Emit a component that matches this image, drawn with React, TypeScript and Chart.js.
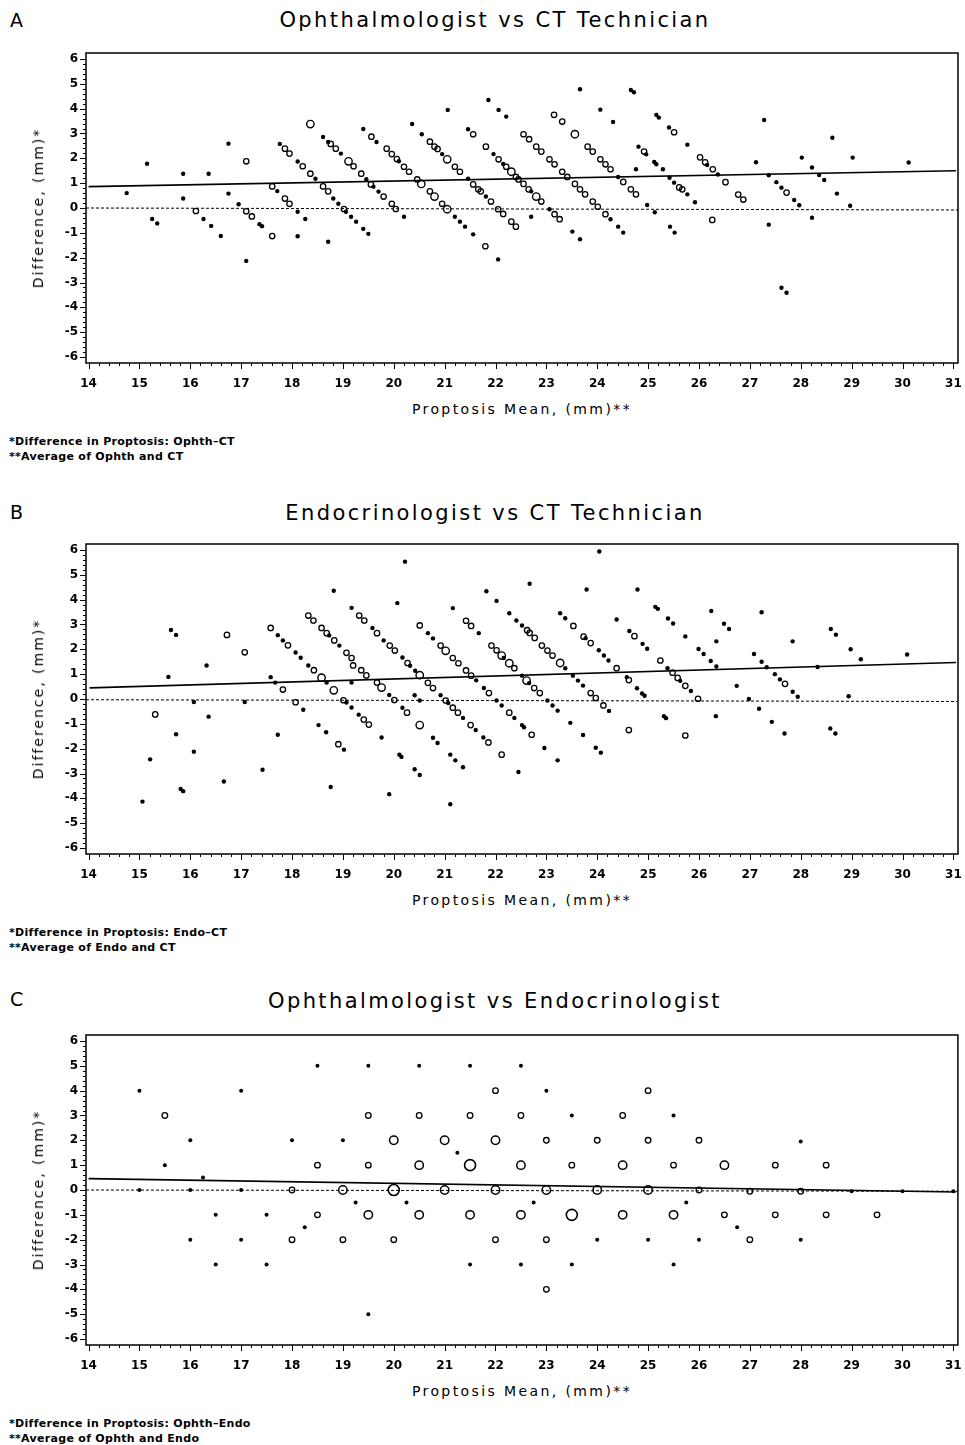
import React, { useEffect, useRef } from 'react';
import { Chart, registerables } from 'chart.js';

Chart.register(...registerables);

type Pt = [number, number];

// ---------- axis ticks ----------
const xTicks = [14, 15, 16, 17, 18, 19, 20, 21, 22, 23, 24, 25, 26, 27, 28, 29, 30, 31];
const yTicks = [-6, -5, -4, -3, -2, -1, 0, 1, 2, 3, 4, 5, 6];

// ---------- Panel A: Ophthalmologist vs CT Technician ----------
const aDots: Pt[] = [
  [14.75, 0.6], [15.15, 1.78], [15.25, -0.44], [15.35, -0.62], [15.86, 1.38], [15.86, 0.38], [16.26, -0.44], [16.36, 1.38],
  [16.41, -0.72], [16.6, -1.13], [16.75, 2.59], [16.75, 0.58], [16.95, 0.15], [17.1, -2.13], [17.36, -0.65], [17.41, -0.73],
  [17.71, 0.68], [17.76, 2.58], [18.11, 1.87], [18.11, -0.15], [18.26, -0.44], [18.11, -1.14], [18.46, 1.18], [18.81, 0.38],
  [18.91, 0.17], [19.06, -0.15], [19.16, -0.35], [19.26, -0.55], [19.4, -0.84], [19.5, -1.04], [18.71, -1.36], [18.61, 2.86],
  [18.71, 2.66], [18.96, 2.19], [19.46, 1.16], [19.6, 0.86], [19.7, 0.66], [19.4, 3.18], [19.66, 2.66],
  [20.1, 1.88], [20.2, -0.35], [20.36, 3.38], [20.55, 2.97], [20.95, 2.17], [21.2, -0.35], [21.3, -0.55], [21.4, -0.75],
  [21.56, -1.06], [22.05, -2.07], [21.06, 3.95], [21.46, 3.17], [21.46, 1.18], [21.81, 0.46], [21.86, 4.35], [22.06, 3.95],
  [22.21, 3.68], [21.96, 2.17], [22.15, 1.77], [22.7, 0.67], [22.7, -0.35], [23.06, -0.05], [23.51, -0.95], [23.66, -1.26],
  [23.66, 4.78], [24.41, 1.25], [24.26, -0.45], [24.41, -0.75], [24.51, -0.99], [24.06, 3.96], [24.31, 3.46], [24.66, 4.75],
  [24.72, 4.66], [24.81, 2.47], [24.96, 2.16], [25.12, 1.85], [25.16, 1.76], [25.29, 1.56], [24.76, 1.56], [25.16, 3.75],
  [25.21, 3.64], [25.41, 3.24], [25.42, 1.22], [25.51, 1.02], [24.98, 0.12], [25.13, -0.17], [25.43, -0.75], [25.52, -0.99],
  [25.77, 2.55], [26.16, 1.73], [26.37, 1.35], [25.77, 0.55], [25.92, 0.23], [27.12, 1.84], [27.28, 3.54], [27.37, 1.32],
  [27.37, -0.67], [27.52, 1.04], [27.62, 0.82], [27.87, 0.32], [27.97, 0.11], [27.62, -3.21], [27.72, -3.41], [28.02, 2.03],
  [28.22, 1.63], [28.36, 1.33], [28.46, 1.13], [28.71, 0.58], [28.22, -0.39], [28.62, 2.83], [29.02, 2.03], [28.97, 0.09],
  [30.12, 1.83],
];
const aSmall: Pt[] = [
  [16.11, -0.12], [17.1, 1.88], [17.1, -0.13], [17.21, -0.34], [17.61, -1.13], [17.61, 0.87], [17.86, 2.39], [17.95, 2.19],
  [17.86, 0.38], [17.95, 0.17], [18.21, 1.68], [18.36, 1.38], [18.61, 0.87], [18.71, 0.67], [19.02, -0.04], [18.76, 2.58],
  [18.86, 2.39], [19.21, 1.68], [19.36, 1.38], [19.55, 0.95], [19.8, 0.46], [19.56, 2.87],
  [19.86, 2.39], [19.96, 2.17], [20.06, 1.97], [20.2, 1.66], [20.3, 1.46], [20.46, 1.15], [19.96, 0.17], [20.04, -0.04],
  [20.71, 2.67], [20.8, 2.47], [20.86, 2.38], [21.2, 1.66], [21.3, 1.46], [20.71, 0.67], [20.95, 0.17], [21.8, -1.54],
  [21.56, 2.97], [21.56, 0.95], [21.66, 0.75], [21.71, 0.67], [21.91, 0.26], [22.05, -0.05], [22.15, -0.24], [22.31, -0.55],
  [22.4, -0.75], [21.81, 2.47], [22.06, 1.96], [22.21, 1.66], [22.4, 1.25], [22.45, 1.15], [22.55, 0.97], [22.65, 0.75],
  [22.9, 0.26], [23.16, -0.25], [23.26, -0.45], [22.55, 2.97], [22.66, 2.77], [22.8, 2.47], [22.9, 2.27], [23.06, 1.96],
  [23.16, 1.76], [23.31, 1.46], [23.41, 1.25], [23.15, 3.75], [23.31, 3.48], [23.81, 2.47], [23.91, 2.27], [24.06, 1.96],
  [24.16, 1.76], [24.26, 1.56], [24.51, 1.05], [24.66, 0.75], [24.76, 0.55], [23.56, 0.97], [23.66, 0.75], [23.76, 0.55],
  [23.91, 0.26], [24.01, 0.05], [24.16, -0.25], [24.92, 2.27], [25.51, 3.05], [25.61, 0.83],
  [26.02, 2.04], [26.12, 1.84], [26.27, 1.56], [26.52, 1.04], [25.67, 0.75], [26.26, -0.48], [26.77, 0.54], [26.87, 0.34],
  [27.72, 0.62],
];
const aLarge: Pt[] = [
  [18.36, 3.38], [19.11, 1.88], [20.54, 0.97], [21.05, 1.96], [20.8, 0.46], [21.05, -0.05], [22.31, 1.46], [22.8, 0.46],
  [23.56, 2.97],
];
const aFit: Pt[] = [[14, 0.86], [31.05, 1.5]];
const aZero: Pt[] = [[13.95, 0], [31.09, -0.08]];

// ---------- Panel B: Endocrinologist vs CT Technician ----------
const bDots: Pt[] = [
  [15.06, -4.13], [15.21, -2.43], [15.57, 0.89], [15.62, 2.78], [15.72, 2.58], [15.72, -1.42], [15.81, -3.62], [15.86, -3.71],
  [16.07, -0.12], [16.07, -2.12], [16.32, 1.35], [16.36, -0.71], [16.66, -3.32], [17.07, -0.12], [17.42, -2.85], [17.58, 0.88],
  [17.67, 0.66], [17.72, 2.57], [17.82, 2.36], [17.72, -1.44], [18.07, 1.87], [18.17, 1.66], [18.22, -0.43], [18.32, 1.35],
  [18.68, 0.66], [18.52, -1.05], [18.67, -1.34], [18.73, 2.56], [18.93, 2.15], [19.07, -0.14], [19.17, -0.34], [19.31, -0.63],
  [19.02, -2.04], [18.76, -3.54], [18.82, 4.36], [19.17, 3.67], [19.58, 2.86], [19.8, 2.36], [19.17, 0.66], [19.76, -1.55],
  [20.22, 5.53], [20.07, 3.86], [20.17, 1.67], [20.32, 1.34], [20.42, 1.14], [19.91, 0.16], [20.17, -0.35], [20.11, -2.24],
  [20.15, -2.33], [20.41, -2.83], [20.51, -3.06], [19.91, -3.83], [20.41, 0.15], [20.51, -0.06], [20.67, 2.65], [20.77, 2.44],
  [20.92, 0.15], [21.07, -0.16], [21.36, -0.76], [21.61, -1.25], [21.76, -1.55], [20.77, -1.56], [20.86, -1.77], [21.11, -2.24],
  [21.21, -2.47], [21.36, -2.75], [21.11, -4.24], [21.16, 3.66], [21.67, 2.65], [21.62, 0.75], [21.77, 0.44], [22.02, -0.06],
  [22.12, -0.26], [22.37, -0.76], [22.52, -1.05], [22.56, -1.14], [22.96, -1.97], [22.45, -2.94], [21.82, 4.34], [22.02, 3.95],
  [22.16, 1.65], [22.52, 0.94], [22.66, 0.64], [23.02, -0.06], [23.12, -0.26], [23.22, -0.47], [23.47, -0.96], [23.72, -1.45],
  [23.97, -1.96], [24.07, -2.16], [23.22, -2.47], [22.67, 4.64], [22.27, 3.45], [22.41, 3.16], [22.52, 2.96], [23.37, 1.24],
  [23.52, 0.94], [23.62, 0.74], [23.72, 0.54], [24.23, -0.48], [23.27, 3.45], [23.37, 3.25], [23.77, 2.45], [24.03, 1.96],
  [24.13, 1.75], [24.22, 1.55], [24.58, 0.88], [24.78, 0.43], [24.88, 0.22], [24.93, 0.13], [23.79, 4.41], [24.04, 5.94],
  [24.38, 3.2], [24.63, 2.74], [24.89, 2.22], [24.98, 2.02], [24.79, 4.41], [25.14, 3.71], [25.19, 3.63], [25.39, 3.24],
  [25.49, 3.04], [25.38, 1.24], [25.31, -0.69], [25.35, -0.77],
  [25.73, 2.52], [25.99, 2.01], [26.09, 1.81], [26.23, 1.53], [26.34, 1.31], [25.63, 0.73], [25.84, 0.32], [26.33, -0.69],
  [26.24, 3.54], [26.49, 3.03], [26.59, 2.82], [26.34, 2.32], [26.74, 0.53], [26.98, 0.0], [27.18, -0.39], [27.43, -0.92],
  [27.68, -1.39], [27.08, 1.81], [27.23, 3.49], [27.23, 1.5], [27.33, 1.28], [27.49, 1.0], [27.59, 0.79], [27.84, 0.29],
  [27.94, 0.09], [27.84, 2.32], [28.33, 1.29], [28.59, 2.82], [28.69, 2.59], [28.98, 2.0], [29.18, 1.6], [28.94, 0.11],
  [28.58, -1.19], [28.68, -1.39], [30.09, 1.79],
];
const bSmall: Pt[] = [
  [15.31, -0.62], [16.72, 2.58], [17.07, 1.88], [17.58, 2.86], [17.82, 0.38], [17.92, 2.16], [18.07, -0.13], [18.43, 1.16],
  [18.32, 3.36], [18.42, 3.16], [18.58, 2.86], [18.68, 2.65], [18.83, 2.36], [19.07, 1.86], [19.17, 1.65], [19.2, 1.35],
  [19.36, 1.16], [19.46, 0.95], [19.01, -0.05], [19.41, -0.83], [19.51, -1.03], [18.91, -1.82], [19.32, 3.36], [19.42, 3.16],
  [19.67, 2.65], [19.67, 0.66],
  [19.92, 2.15], [20.02, 1.95], [20.27, 1.45], [20.01, -0.04], [20.26, -0.55], [20.51, 2.96], [20.92, 2.15], [21.16, 1.65],
  [21.27, 1.44], [20.67, 0.65], [20.77, 0.44], [21.02, -0.06], [21.16, -0.35], [21.26, -0.55], [21.51, -1.05], [21.86, -1.75],
  [22.12, -2.24], [21.42, 3.15], [21.52, 2.94], [21.42, 1.15], [21.52, 0.94], [21.87, 0.24], [22.27, -0.55], [22.71, -1.44],
  [21.92, 2.15], [22.02, 1.96], [22.37, 1.24], [22.76, 0.44], [22.87, 0.24], [22.62, 2.77], [22.67, 2.66], [22.77, 2.46],
  [22.91, 2.15], [23.02, 1.95], [23.12, 1.75], [23.87, 0.24], [23.97, 0.04], [24.12, -0.26], [23.53, 2.94], [23.73, 2.51],
  [23.87, 2.25], [24.38, 1.24], [24.62, 0.76], [24.73, 2.53], [25.24, 1.55], [25.48, 1.06], [25.58, 0.85], [24.62, -1.25],
  [25.73, 0.53], [25.98, 0.01], [25.73, -1.47], [27.69, 0.61],
];
const bLarge: Pt[] = [
  [18.58, 0.86], [19.76, 0.46], [18.82, 0.35], [20.51, 0.96], [20.51, -1.05], [21.02, 1.94], [22.12, 1.75], [22.27, 1.44],
  [22.61, 0.74], [23.27, 1.45],
];
const bFit: Pt[] = [[14.02, 0.45], [31.05, 1.47]];
const bZero: Pt[] = [[13.95, -0.03], [31.09, -0.1]];

// ---------- Panel C: Ophthalmologist vs Endocrinologist ----------
const cDots: Pt[] = [
  [15, 4], [15.5, 1], [16, 2], [15, 0], [16, 0], [16.25, 0.5], [16.5, -1], [16, -2], [16.5, -3], [17, 4], [17, 0], [17.5, -1],
  [17, -2], [17.5, -3], [18, 2], [18.25, -1.5], [18.5, 5], [19, 2], [19.25, -0.5], [19.5, 5], [19.5, -5], [20.25, -0.5],
  [20.5, 5], [21.25, 1.5], [21.5, 5], [21.5, -3], [22.5, 5], [22.5, -3], [22.75, -0.5], [23, 4], [23.5, 3], [23.5, -3],
  [24, -2], [25, -2], [25.5, 3], [25.5, -3], [25.75, -0.5], [26, -2], [26.75, -1.5], [28, 1.95], [28, -2], [29, -0.05],
  [30, -0.05], [31, -0.05],
];
const cSmall: Pt[] = [
  [15.5, 3], [18, 0], [18, -2], [18.5, 1], [18.5, -1], [19, -2], [19.5, 3], [19.5, 1], [20, -2], [20.5, 3], [21.5, 3], [22, 4],
  [22, -2], [22.5, 3], [23, 2], [23, -2], [23, -4], [23.5, 1], [24, 2], [24.5, 3], [25, 4], [25, 2], [25.5, 1], [26, 2], [26, 0],
  [26.5, -1], [27, -0.05], [27, -2], [27.5, 1], [27.5, -1], [28, -0.05], [28.5, 1], [28.5, -1], [29.5, -1],
];
const cMedium: Pt[] = [
  [19, 0], [19.5, -1], [20, 2], [20.5, 1], [20.5, -1], [21, 2], [21, 0], [21.5, -1], [22, 2], [22, 0], [22.5, 1], [22.5, -1],
  [23, 0], [24, 0], [24.5, 1], [24.5, -1], [25, 0], [25.5, -1], [26.5, 1],
];
const cLarge: Pt[] = [[20, 0], [23.5, -1], [21.5, 1]];
const cFit: Pt[] = [[14, 0.46], [31.05, -0.08]];
const cZero: Pt[] = [[13.95, 0], [31.09, -0.05]];

// ---------- text ----------
const panelLetters = ['A', 'B', 'C'];
const panelTitles = [
  'Ophthalmologist vs CT Technician',
  'Endocrinologist vs CT Technician',
  'Ophthalmologist vs Endocrinologist',
];
const xTitle = 'Proptosis Mean, (mm)**';
const yTitle = 'Difference, (mm)*';
const footnotes = [
  ['*Difference in Proptosis: Ophth\u2013CT', '**Average of Ophth and CT'],
  ['*Difference in Proptosis: Endo\u2013CT', '**Average of Endo and CT'],
  ['*Difference in Proptosis: Ophth\u2013Endo', '**Average of Ophth and Endo'],
];

// ---------- layout ----------
const FRAME_TOPS = [53, 544, 1035];
const TITLE_TOPS = [10, 503, 991];
const LETTER_TOPS = [11, 503, 990];
const PLOT_H = 310;
const PAD_TOP = 10;
const AXIS_H = 30;
const CANVAS_H = PAD_TOP + PLOT_H + AXIS_H;
const FONT = "'DejaVu Sans', Verdana, sans-serif";

const toXY = (a: Pt[]) => a.map(([x, y]) => ({ x, y }));

type Mark = { data: Pt[]; r: number; filled: boolean; bw: number };
type PanelData = { marks: Mark[]; fit: Pt[]; zero: Pt[] };

const panels: PanelData[] = [
  {
    marks: [
      { data: aDots, r: 2.2, filled: true, bw: 0 },
      { data: aSmall, r: 2.7, filled: false, bw: 1.3 },
      { data: aLarge, r: 3.7, filled: false, bw: 1.4 },
    ],
    fit: aFit,
    zero: aZero,
  },
  {
    marks: [
      { data: bDots, r: 2.2, filled: true, bw: 0 },
      { data: bSmall, r: 2.7, filled: false, bw: 1.3 },
      { data: bLarge, r: 3.7, filled: false, bw: 1.4 },
    ],
    fit: bFit,
    zero: bZero,
  },
  {
    marks: [
      { data: cDots, r: 2.0, filled: true, bw: 0 },
      { data: cSmall, r: 2.8, filled: false, bw: 1.3 },
      { data: cMedium, r: 4.2, filled: false, bw: 1.5 },
      { data: cLarge, r: 5.5, filled: false, bw: 1.6 },
    ],
    fit: cFit,
    zero: cZero,
  },
];

const frameTicks = {
  id: 'frameTicks',
  afterDraw(chart: any) {
    const { ctx, chartArea: ca, scales } = chart;
    const xs = scales.x;
    const ys = scales.y;
    ctx.save();
    ctx.strokeStyle = '#000';
    ctx.lineWidth = 1.5;
    ctx.strokeRect(ca.left, ca.top, ca.right - ca.left, ca.bottom - ca.top);
    ctx.lineWidth = 1;
    ctx.beginPath();
    const x0 = xTicks[0];
    const xN = (xTicks[xTicks.length - 1] - x0) * 5;
    for (let i = 0; i <= xN; i++) {
      const px = Math.round(xs.getPixelForValue(x0 + i / 5)) + 0.5;
      const len = i % 5 === 0 ? 6 : 3;
      ctx.moveTo(px, ca.bottom);
      ctx.lineTo(px, ca.bottom + len);
    }
    const y0 = yTicks[0];
    const yN = (yTicks[yTicks.length - 1] - y0) * 5;
    for (let i = 0; i <= yN; i++) {
      const py = Math.round(ys.getPixelForValue(y0 + i / 5)) + 0.5;
      const len = i % 5 === 0 ? 6 : 3;
      ctx.moveTo(ca.left, py);
      ctx.lineTo(ca.left - len, py);
    }
    ctx.stroke();
    ctx.restore();
  },
};

function makeConfig(p: PanelData): any {
  const tickFont = { family: FONT, size: 12, weight: 'bold' as const };
  return {
    type: 'scatter',
    data: {
      datasets: [
        ...p.marks.map((m) => ({
          data: toXY(m.data),
          showLine: false,
          pointRadius: m.r,
          pointHoverRadius: m.r,
          pointBackgroundColor: m.filled ? '#000' : 'rgba(0,0,0,0)',
          pointBorderColor: '#000',
          pointBorderWidth: m.bw,
          clip: 2,
        })),
        {
          data: toXY(p.fit),
          showLine: true,
          borderColor: '#000',
          borderWidth: 1.7,
          pointRadius: 0,
          pointHoverRadius: 0,
        },
        {
          data: toXY(p.zero),
          showLine: true,
          borderColor: '#000',
          borderWidth: 1,
          borderDash: [3, 2],
          pointRadius: 0,
          pointHoverRadius: 0,
        },
      ],
    },
    options: {
      responsive: false,
      animation: false,
      events: [],
      layout: { padding: { top: PAD_TOP, right: 7, left: 0, bottom: 0 } },
      plugins: {
        legend: { display: false },
        tooltip: { enabled: false },
        title: { display: false },
      },
      scales: {
        x: {
          type: 'linear',
          min: 13.95,
          max: 31.09,
          grid: { display: false, drawTicks: true, tickLength: 12 },
          border: { display: false },
          ticks: { font: tickFont, color: '#000', padding: 2, maxRotation: 0, autoSkip: false },
          afterBuildTicks: (s: any) => {
            s.ticks = xTicks.map((v) => ({ value: v }));
          },
          afterFit: (s: any) => {
            s.height = AXIS_H;
            s.paddingLeft = 0;
            s.paddingRight = 0;
          },
        },
        y: {
          type: 'linear',
          min: -6.24,
          max: 6.24,
          grid: { display: false, drawTicks: true, tickLength: 6 },
          border: { display: false },
          ticks: { font: tickFont, color: '#000', padding: 2, autoSkip: false },
          afterBuildTicks: (s: any) => {
            s.ticks = yTicks.map((v) => ({ value: v }));
          },
          afterFit: (s: any) => {
            s.width = 86;
            s.paddingTop = 0;
            s.paddingBottom = 0;
          },
        },
      },
    },
    plugins: [frameTicks],
  };
}

function PanelChart({ data, top }: { data: PanelData; top: number }) {
  const ref = useRef<HTMLCanvasElement | null>(null);
  useEffect(() => {
    if (!ref.current) return;
    const chart = new Chart(ref.current, makeConfig(data));
    return () => chart.destroy();
  }, [data]);
  return (
    <canvas
      ref={ref}
      width={965}
      height={CANVAS_H}
      style={{ position: 'absolute', left: 0, top, width: 965, height: CANVAS_H }}
    />
  );
}

export default function App() {
  return (
    <div
      style={{
        position: 'absolute',
        left: 0,
        top: 0,
        width: 965,
        height: 1445,
        background: '#fff',
        overflow: 'hidden',
        fontFamily: FONT,
        color: '#000',
      }}
    >
      {panels.map((p, i) => {
        const ft = FRAME_TOPS[i];
        const fb = ft + PLOT_H;
        return (
          <React.Fragment key={i}>
            <PanelChart data={p} top={ft - PAD_TOP} />
            <div style={{ position: 'absolute', left: 10, top: LETTER_TOPS[i], fontSize: 19, lineHeight: '19px' }}>
              {panelLetters[i]}
            </div>
            <div
              style={{
                position: 'absolute',
                left: 495,
                top: TITLE_TOPS[i],
                fontSize: 21,
                lineHeight: '21px',
                letterSpacing: '2.4px',
                whiteSpace: 'nowrap',
                transform: 'translateX(-50%)',
              }}
            >
              {panelTitles[i]}
            </div>
            <div
              style={{
                position: 'absolute',
                left: 522,
                top: fb + 39,
                fontSize: 14,
                lineHeight: '14px',
                letterSpacing: '2.4px',
                whiteSpace: 'nowrap',
                transform: 'translateX(-50%)',
              }}
            >
              {xTitle}
            </div>
            <div
              style={{
                position: 'absolute',
                left: 38,
                top: ft + PLOT_H / 2,
                fontSize: 14,
                lineHeight: '14px',
                letterSpacing: '2px',
                whiteSpace: 'nowrap',
                transform: 'translate(-50%, -50%) rotate(-90deg)',
              }}
            >
              {yTitle}
            </div>
            <div
              style={{
                position: 'absolute',
                left: 9,
                top: fb + 71,
                fontSize: 11,
                lineHeight: '15px',
                fontWeight: 'bold',
                letterSpacing: '0.3px',
                whiteSpace: 'nowrap',
              }}
            >
              <div>{footnotes[i][0]}</div>
              <div>{footnotes[i][1]}</div>
            </div>
          </React.Fragment>
        );
      })}
    </div>
  );
}
